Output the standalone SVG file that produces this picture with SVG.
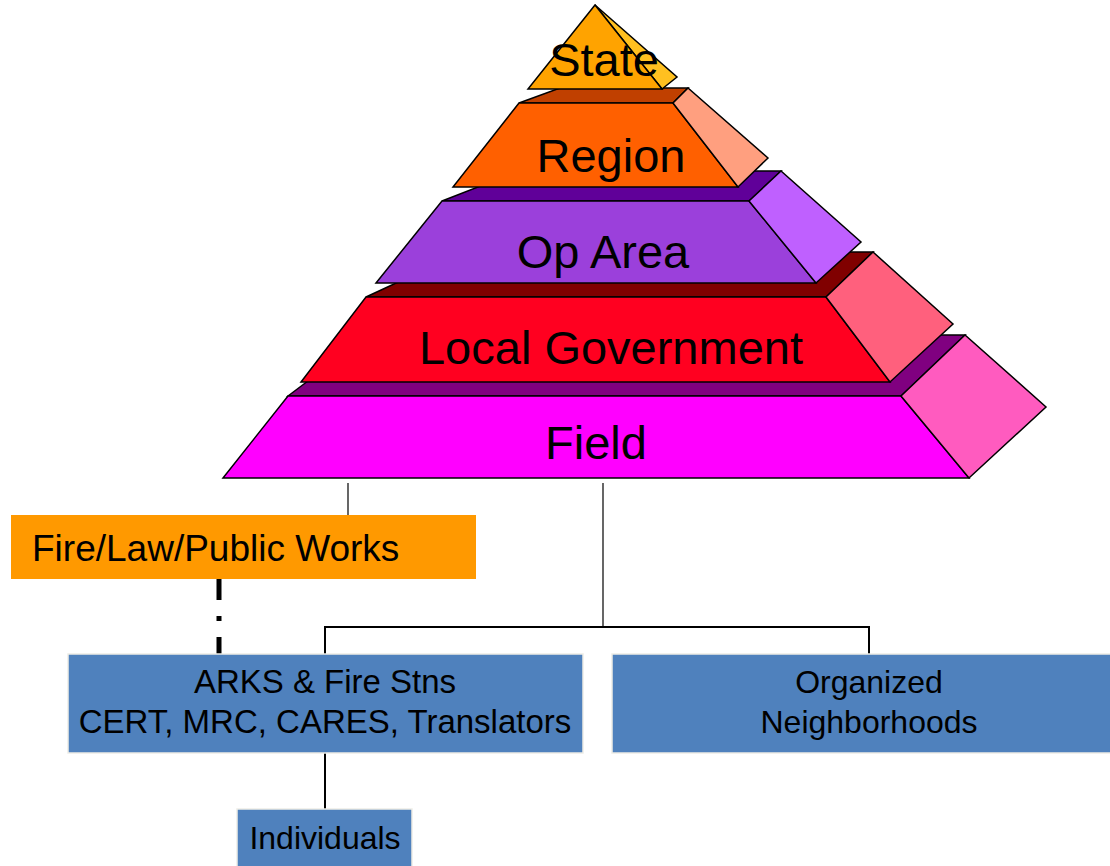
<svg xmlns="http://www.w3.org/2000/svg" width="1110" height="866" viewBox="0 0 1110 866">
<style>
.face{stroke:#000;stroke-width:1.5;stroke-linejoin:miter}
.lbl{font-family:"Liberation Sans",Arial,sans-serif;fill:#000;text-anchor:middle}
.big{font-size:47px}
.mid{font-size:32px}
.box{fill:#4F81BD;stroke:#EEEDE6;stroke-width:1.5}
.conn{stroke:#000;fill:none}
</style>
<rect width="1110" height="866" fill="#fff"/>
<g id="field">
<polygon class="face" fill="#800080" points="288,396 369,335 965,335 901,396"/>
<polygon class="face" fill="#FF00FF" points="288,396 901,396 969,478 223,478"/>
<polygon class="face" fill="#FF5BBF" points="901,396 965,335 1046,407 969,478"/>
<text class="lbl big" x="596" y="459">Field</text>
</g>
<g id="local-government">
<polygon class="face" fill="#800000" points="366,297 463,252 873,252 826,297"/>
<polygon class="face" fill="#FF0020" points="366,297 826,297 890,382 301,382"/>
<polygon class="face" fill="#FF607D" points="826,297 873,252 953,324 890,382"/>
<text class="lbl big" x="611" y="364">Local Government</text>
</g>
<g id="op-area">
<polygon class="face" fill="#600099" points="442,201 519,171 781,171 749,201"/>
<polygon class="face" fill="#9B40DB" points="442,201 749,201 816,283 376,283"/>
<polygon class="face" fill="#BF60FF" points="749,201 781,171 861,242 816,283"/>
<text class="lbl big" x="603" y="268">Op Area</text>
</g>
<g id="region">
<polygon class="face" fill="#C04000" points="519,103 560,88 688,88 673,103"/>
<polygon class="face" fill="#FF6000" points="519,103 673,103 738,187 453,187"/>
<polygon class="face" fill="#FF9F7F" points="673,103 688,88 768,158 738,187"/>
<text class="lbl big" x="611" y="172">Region</text>
</g>
<g id="state">
<polygon class="face" fill="#FFC020" points="595,5 677,77 662,89"/>
<polygon class="face" fill="#FFA300" points="595,5 662,89 528,89"/>
<text class="lbl big" x="604" y="76">State</text>
</g>
<g id="connectors">
<line class="conn" stroke-width="1.2" x1="348" y1="483" x2="348" y2="515"/>
<line class="conn" stroke-width="5" stroke-dasharray="21 16 5 16" x1="219" y1="579" x2="219" y2="656"/>
<line class="conn" stroke-width="1.2" x1="603" y1="483" x2="603" y2="627"/>
<polyline class="conn" stroke-width="2" points="325,655 325,627 869,627 869,655"/>
<line class="conn" stroke-width="2" x1="325" y1="753" x2="325" y2="809"/>
</g>
<g id="fire-law-public-works">
<rect x="11" y="515" width="465" height="64" fill="#FF9900"/>
<text x="32" y="561" font-family="Liberation Sans,Arial,sans-serif" font-size="37" fill="#000">Fire/Law/Public Works</text>
</g>
<g id="arks">
<rect class="box" x="68" y="654" width="515" height="99"/>
<text class="lbl" font-size="33" x="325" y="693">ARKS &amp; Fire Stns</text>
<text class="lbl" font-size="33" x="325" y="733">CERT, MRC, CARES, Translators</text>
</g>
<g id="organized-neighborhoods">
<rect class="box" x="612" y="654" width="510" height="99"/>
<text class="lbl mid" x="869" y="693">Organized</text>
<text class="lbl mid" x="869" y="733">Neighborhoods</text>
</g>
<g id="individuals">
<rect class="box" x="237" y="809" width="175" height="70"/>
<text class="lbl mid" x="325" y="849">Individuals</text>
</g>
</svg>
